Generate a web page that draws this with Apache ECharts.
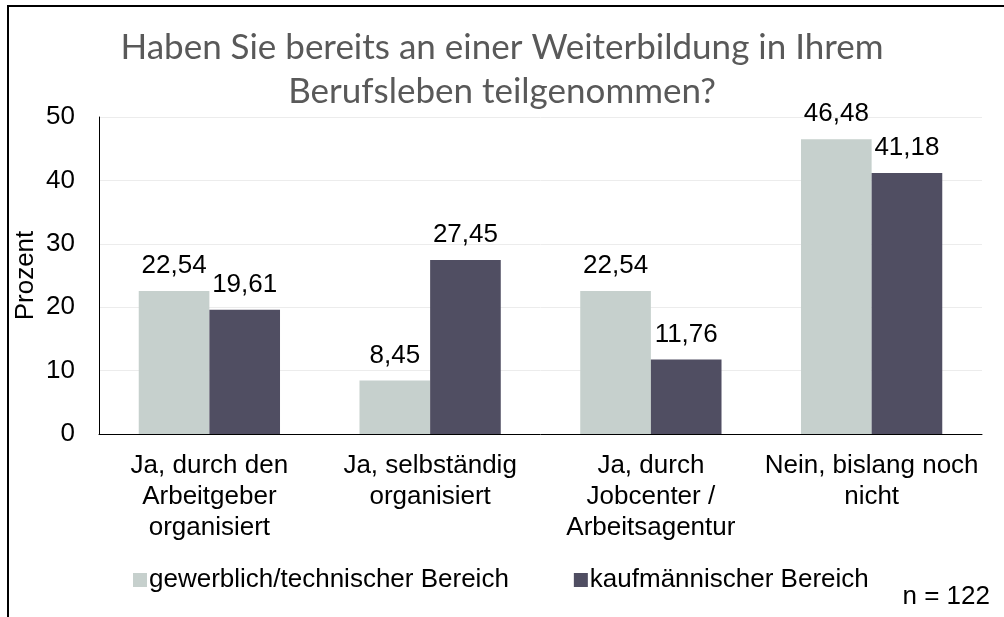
<!DOCTYPE html>
<html><head><meta charset="utf-8">
<script src="https://cdn.jsdelivr.net/npm/echarts@6/dist/echarts.min.js"></script>
<style>html,body{margin:0;padding:0;background:#fff}#c{width:1004px;height:617px}</style>
</head><body><div id="c"></div>
<script>
const categories = ['Ja, durch den\nArbeitgeber\norganisiert', 'Ja, selbständig\norganisiert', 'Ja, durch\nJobcenter /\nArbeitsagentur', 'Nein, bislang noch\nnicht'];
const seriesNames = ['gewerblich/technischer Bereich', 'kaufmännischer Bereich'];
const gewerblich = [22.54, 8.45, 22.54, 46.48];
const kaufmaennisch = [19.61, 27.45, 11.76, 41.18];
const colors = ['#c6d0cd', '#504e62'];
const fmt = v => v.toFixed(2).replace('.', ',');
const FS = 26;
const chart = echarts.init(document.getElementById('c'), null, {renderer: 'canvas'});
const lbl = {show: true, position: 'top', distance: 12, fontFamily: 'Liberation Sans', fontSize: FS, color: '#000', formatter: p => fmt(p.value)};
chart.setOption({
  animation: false,
  title: {
    text: 'Haben Sie bereits an einer Weiterbildung in Ihrem\nBerufsleben teilgenommen?',
    left: 'center', top: 21,
    textStyle: {fontFamily: 'Lato', fontWeight: 'normal', fontSize: 35, lineHeight: 44, color: '#595959'}
  },
  legend: {
    left: 128, top: 562, itemWidth: 14, itemHeight: 14, itemGap: 65,
    icon: 'rect',
    textStyle: {fontFamily: 'Liberation Sans', fontSize: FS, color: '#000', padding: [0, 0, 0, -3]},
    data: seriesNames
  },
  grid: {left: 99, right: 22, top: 117, bottom: 183, containLabel: false},
  xAxis: {
    type: 'category', data: categories,
    axisLine: {lineStyle: {color: '#000', width: 1}},
    axisTick: {show: false},
    axisLabel: {fontFamily: 'Liberation Sans', fontSize: FS, color: '#000', lineHeight: 31, margin: 16, interval: 0}
  },
  yAxis: {
    type: 'value', min: 0, max: 50, interval: 10,
    name: 'Prozent', nameLocation: 'middle', nameGap: 60, nameRotate: 90, nameMoveOverlap: false,
    nameTextStyle: {fontFamily: 'Liberation Sans', fontSize: FS, color: '#000'},
    axisLine: {show: true, lineStyle: {color: '#000', width: 1}},
    axisTick: {show: false},
    axisLabel: {fontFamily: 'Liberation Sans', fontSize: FS, color: '#000', margin: 24},
    splitLine: {lineStyle: {color: '#ececec', width: 1}}
  },
  series: [
    {name: seriesNames[0], type: 'bar', data: gewerblich, itemStyle: {color: colors[0]}, barGap: '0%', barCategoryGap: '36%', label: lbl},
    {name: seriesNames[1], type: 'bar', data: kaufmaennisch, itemStyle: {color: colors[1]}, barGap: '0%', barCategoryGap: '36%', label: lbl}
  ],
  graphic: [
    {type: 'rect', shape: {x: 8, y: 6, width: 1200, height: 800}, style: {fill: 'none', stroke: '#000', lineWidth: 2}, silent: true},
    {type: 'text', right: 14, top: 584, style: {text: 'n = 122', fontFamily: 'Liberation Sans', fontSize: FS, fill: '#000'}}
  ]
});
</script></body></html>
